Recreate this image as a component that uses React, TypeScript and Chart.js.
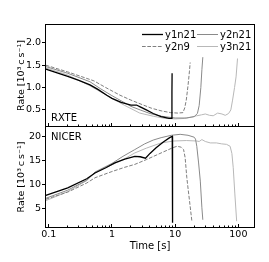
import React, { useEffect, useRef } from 'react';
import { Chart, registerables } from 'chart.js';

Chart.register(...registerables);

// ---------- data ----------
const seriesNames = ['y1n21', 'y2n9', 'y2n21', 'y3n21'];
const seriesColors = ['#000000', '#7f7f7f', '#8a8a8a', '#b8b8b8'];
const seriesDash: number[][] = [[], [3.7, 1.6], [], []];
const seriesWidth = [1.3, 1.0, 1.0, 1.0];

// RXTE panel (rate in 10^3 c/s)
const rxteT_y1n21 = [0.09, 0.2, 0.3, 0.45, 0.6, 0.83, 1.0, 1.4, 2.0, 2.45, 2.8, 3.5, 4.5, 6.0, 8.0, 8.85, 8.9, 8.95];
const rxteV_y1n21 = [1.41, 1.25, 1.16, 1.06, 0.96, 0.83, 0.76, 0.67, 0.61, 0.61, 0.57, 0.5, 0.42, 0.35, 0.31, 0.31, 0.9, 1.32];
const rxteT_y2n9 = [0.09, 0.2, 0.52, 0.8, 1.34, 2.0, 3.0, 4.2, 6.0, 8.5, 11, 13.3, 14.2, 15, 16, 16.8, 17.3];
const rxteV_y2n9 = [1.5, 1.35, 1.15, 1.0, 0.83, 0.72, 0.62, 0.54, 0.48, 0.44, 0.43, 0.44, 0.55, 0.72, 1.05, 1.35, 1.56];
const rxteT_y2n21 = [0.09, 0.2, 0.45, 0.65, 1.0, 1.5, 2.0, 2.8, 4, 6, 10, 15, 20, 22.5, 24, 25.5, 26.5, 27.4];
const rxteV_y2n21 = [1.47, 1.32, 1.13, 0.98, 0.82, 0.68, 0.58, 0.5, 0.42, 0.36, 0.32, 0.32, 0.35, 0.42, 0.6, 1.0, 1.4, 1.68];
const rxteT_y3n21 = [0.09, 0.2, 0.45, 0.65, 1.0, 1.6, 2.76, 4.5, 7, 10, 14, 18, 22, 26, 30, 35, 40, 47, 55, 62, 70, 76, 81, 87, 92, 97];
const rxteV_y3n21 = [1.44, 1.28, 1.04, 0.91, 0.76, 0.6, 0.43, 0.36, 0.31, 0.3, 0.31, 0.34, 0.37, 0.39, 0.41, 0.38, 0.37, 0.43, 0.41, 0.38, 0.42, 0.5, 0.72, 1.0, 1.24, 1.65];

// NICER panel (rate in 10^3 c/s)
const nicerT_y1n21 = [0.09, 0.2, 0.4, 0.54, 0.8, 1.11, 1.6, 2.3, 2.8, 3.4, 4.0, 5.0, 6.5, 8.2, 9.0, 9.1];
const nicerV_y1n21 = [7.7, 9.3, 11.2, 12.4, 13.5, 14.5, 15.3, 15.9, 15.8, 15.5, 16.5, 17.7, 18.9, 19.8, 20.1, 2.0];
const nicerT_y2n9 = [0.09, 0.2, 0.4, 0.54, 1.0, 1.6, 2.3, 3.5, 6.0, 9.2, 10.7, 12.5, 13.6, 14.4, 15.3, 16.9, 18.4];
const nicerV_y2n9 = [6.9, 8.4, 10.3, 11.4, 12.7, 13.6, 14.2, 15.2, 16.6, 17.7, 18.0, 17.8, 17.3, 15.6, 11.4, 6.5, 2.3];
const nicerT_y2n21 = [0.09, 0.2, 0.4, 0.54, 1.0, 1.5, 2.3, 3.3, 4.5, 6.0, 8.7, 12, 16, 20, 21, 22, 23.5, 25, 26.5, 27.4];
const nicerV_y2n21 = [7.1, 8.8, 10.9, 12.6, 14.4, 15.9, 17.3, 18.5, 19.3, 19.8, 20.3, 20.5, 20.3, 19.9, 19.5, 18.0, 14.5, 10.7, 5.1, 2.6];
const nicerT_y3n21 = [0.09, 0.2, 0.4, 0.54, 1.0, 1.6, 2.3, 3.5, 6.0, 9.5, 15, 22, 24, 26.5, 30, 36, 45, 54.5, 65, 74, 79, 83, 88, 94];
const nicerV_y3n21 = [6.6, 8.5, 10.8, 12.5, 14.1, 15.4, 16.6, 17.6, 18.7, 19.1, 19.2, 19.1, 19.0, 19.4, 19.0, 18.7, 18.7, 18.5, 18.4, 18.0, 16.5, 13.5, 8.0, 2.3];

// axes
const timeMajor = [0.1, 1, 10, 100];
const timeMajorLabels = ['0.1', '1', '10', '100'];
const timeMinorMult = [2, 3, 4, 5, 6, 7, 8, 9];
const timeDecades = [0.01, 0.1, 1, 10, 100];
const timeMin = 0.089;
const timeMax = 180;
const rxteTicks = [0.5, 1.0, 1.5, 2.0];
const rxteTickLabels = ['0.5', '1.0', '1.5', '2.0'];
const rxteMin = 0.13;
const rxteMax = 2.41;
const nicerTicks = [5, 10, 15, 20];
const nicerTickLabels = ['5', '10', '15', '20'];
const nicerMin = 0.98;
const nicerMax = 22.14;

const yTitle = 'Rate [10³\u2009c\u2009s⁻¹]';
const xTitle = 'Time [s]';

const FONT = '"DejaVu Sans", sans-serif';
const W = 269;
const H = 262;

const mk = (t: number[], v: number[]) => t.map((x, i) => ({ x, y: v[i] }));

const timeTickValues: number[] = (() => {
  const out: number[] = [];
  timeDecades.forEach((d) => {
    out.push(d);
    timeMinorMult.forEach((m) => out.push(+(d * m).toPrecision(6)));
  });
  return out.filter((v) => v >= timeMin && v <= timeMax).sort((a, b) => a - b);
})();

function buildDatasets(ts: number[][], vs: number[][]) {
  return seriesNames.map((name, i) => ({
    label: name,
    data: mk(ts[i], vs[i]),
    borderColor: seriesColors[i],
    backgroundColor: seriesColors[i],
    borderWidth: seriesWidth[i],
    borderDash: seriesDash[i],
    pointRadius: 0,
    tension: 0,
    fill: false,
  }));
}

// legend layout: [datasetIndex, lineStartX, rowY]
const legendLayout: [number, number, number][] = [
  [0, 142, 34.5],
  [1, 142, 46.5],
  [2, 197, 34.5],
  [3, 197, 46.5],
];

function panelPlugin(name: string, labelY: number, withLegend: boolean) {
  return {
    id: 'panel_' + name,
    afterDraw(chart: any) {
      const { ctx, chartArea: a, scales } = chart;
      const xs = scales.x;
      const ys = scales.y;
      ctx.save();
      ctx.strokeStyle = '#000';
      ctx.lineWidth = 1;
      ctx.setLineDash([]);
      ctx.strokeRect(a.left, a.top, a.right - a.left, a.bottom - a.top);
      ctx.beginPath();
      xs.ticks.forEach((t: any) => {
        const px = Math.floor(xs.getPixelForValue(t.value)) + 0.5;
        const len = timeMajor.includes(t.value) ? 3.5 : 2;
        ctx.moveTo(px, a.bottom);
        ctx.lineTo(px, a.bottom - len);
      });
      ys.ticks.forEach((t: any) => {
        const py = Math.floor(ys.getPixelForValue(t.value)) + 0.5;
        ctx.moveTo(a.left, py);
        ctx.lineTo(a.left - 3.5, py);
      });
      ctx.stroke();

      ctx.fillStyle = '#000';
      ctx.font = '10px ' + FONT;
      ctx.textBaseline = 'middle';
      ctx.textAlign = 'left';
      ctx.fillText(name, 51, labelY);

      if (withLegend) {
        legendLayout.forEach(([di, lx, ly]) => {
          const ds = chart.data.datasets[di];
          ctx.strokeStyle = ds.borderColor;
          ctx.lineWidth = ds.borderWidth;
          ctx.setLineDash(ds.borderDash || []);
          ctx.beginPath();
          ctx.moveTo(lx, ly);
          ctx.lineTo(lx + 21, ly);
          ctx.stroke();
          ctx.setLineDash([]);
          ctx.fillStyle = '#000';
          ctx.fillText(ds.label, lx + 23, ly + 0.5);
        });
      }
      ctx.restore();
    },
  };
}

function makeConfig(opts: {
  datasets: any[];
  yMin: number;
  yMax: number;
  yTicks: number[];
  yLabels: string[];
  top: number;
  bottom: number;
  showX: boolean;
  plugin: any;
}) {
  return {
    type: 'line' as const,
    data: { datasets: opts.datasets },
    plugins: [opts.plugin],
    options: {
      responsive: false,
      maintainAspectRatio: false,
      animation: false as const,
      parsing: true,
      layout: {
        padding: { left: 0, right: W - 254.5, top: opts.top, bottom: opts.showX ? 0 : H - opts.bottom },
      },
      plugins: { legend: { display: false }, tooltip: { enabled: false }, title: { display: false } },
      scales: {
        x: {
          type: 'logarithmic' as const,
          min: timeMin,
          max: timeMax,
          grid: { display: false, drawTicks: false },
          border: { display: false },
          afterBuildTicks: (s: any) => {
            s.ticks = timeTickValues.map((v) => ({ value: v }));
          },
          afterFit: (s: any) => {
            s.height = opts.showX ? H - opts.bottom : 0;
          },
          ticks: {
            display: opts.showX,
            autoSkip: false,
            maxRotation: 0,
            minRotation: 0,
            padding: 1.5,
            color: '#000',
            font: { family: FONT, size: 9.5 },
            callback: (v: any) => {
              const idx = timeMajor.indexOf(Number(v));
              return idx >= 0 ? timeMajorLabels[idx] : '';
            },
          },
          title: {
            display: opts.showX,
            text: xTitle,
            color: '#000',
            font: { family: FONT, size: 10, lineHeight: 1.2 },
            padding: { top: 0, bottom: 10 },
          },
        },
        y: {
          type: 'linear' as const,
          min: opts.yMin,
          max: opts.yMax,
          grid: { display: false, drawTicks: false },
          border: { display: false },
          afterBuildTicks: (s: any) => {
            s.ticks = opts.yTicks.map((v) => ({ value: v }));
          },
          afterFit: (s: any) => {
            s.width = 45.5;
          },
          ticks: {
            padding: 4.5,
            color: '#000',
            font: { family: FONT, size: 9.5 },
            callback: (v: any) => {
              const idx = opts.yTicks.indexOf(Number(v));
              return idx >= 0 ? opts.yLabels[idx] : '';
            },
          },
          title: {
            display: true,
            text: yTitle,
            color: '#000',
            font: { family: FONT, size: 9.5, lineHeight: 1.2 },
            padding: { top: 16, bottom: 0 },
          },
        },
      },
    },
  };
}

export default function App() {
  const topRef = useRef<HTMLCanvasElement>(null);
  const botRef = useRef<HTMLCanvasElement>(null);

  useEffect(() => {
    Chart.defaults.font.family = FONT;
    Chart.defaults.color = '#000';
    const top = new Chart(
      topRef.current as HTMLCanvasElement,
      makeConfig({
        datasets: buildDatasets(
          [rxteT_y1n21, rxteT_y2n9, rxteT_y2n21, rxteT_y3n21],
          [rxteV_y1n21, rxteV_y2n9, rxteV_y2n21, rxteV_y3n21]
        ),
        yMin: rxteMin,
        yMax: rxteMax,
        yTicks: rxteTicks,
        yLabels: rxteTickLabels,
        top: 24.5,
        bottom: 126.5,
        showX: false,
        plugin: panelPlugin('RXTE', 118, true),
      }) as any
    );
    const bot = new Chart(
      botRef.current as HTMLCanvasElement,
      makeConfig({
        datasets: buildDatasets(
          [nicerT_y1n21, nicerT_y2n9, nicerT_y2n21, nicerT_y3n21],
          [nicerV_y1n21, nicerV_y2n9, nicerV_y2n21, nicerV_y3n21]
        ),
        yMin: nicerMin,
        yMax: nicerMax,
        yTicks: nicerTicks,
        yLabels: nicerTickLabels,
        top: 126.5,
        bottom: 227.5,
        showX: true,
        plugin: panelPlugin('NICER', 137.5, false),
      }) as any
    );
    return () => {
      top.destroy();
      bot.destroy();
    };
  }, []);

  const cstyle: React.CSSProperties = { position: 'absolute', left: 0, top: 0, width: W, height: H };
  return (
    <div style={{ position: 'fixed', left: 0, top: 0, width: W, height: H, background: '#fff' }}>
      <canvas ref={topRef} width={W} height={H} style={cstyle} />
      <canvas ref={botRef} width={W} height={H} style={cstyle} />
    </div>
  );
}
